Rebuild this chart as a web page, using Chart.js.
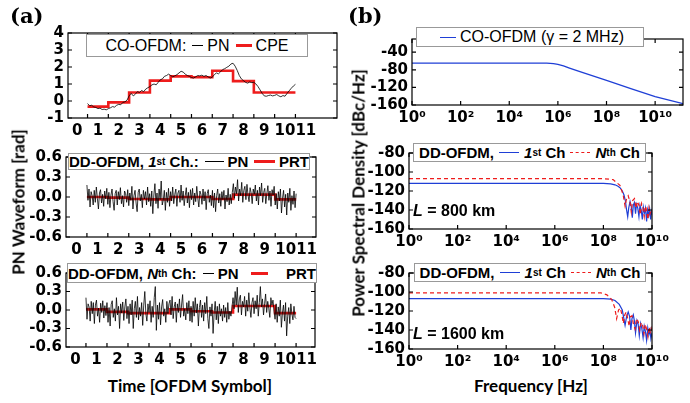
<!DOCTYPE html>
<html>
<head>
<meta charset="utf-8">
<script src="https://cdn.jsdelivr.net/npm/chart.js@4.4.1/dist/chart.umd.min.js"></script>
<style>
body { margin: 0; background: #fff; }
#wrap { position: relative; width: 690px; height: 403px; overflow: hidden; }
canvas { position: absolute; }
.lg { position: absolute; background: #fff; border: 1px solid #999; display: flex; align-items: center;
      justify-content: center; font-family: "Liberation Sans", Arial, sans-serif; color: #000;
      white-space: nowrap; box-sizing: border-box; }
.lg.b { font-weight: bold; font-size: 15px; }
.lg.r { font-size: 16px; }
.ln { display: inline-block; border-top: 1px solid #000; margin: 0 4px; vertical-align: middle; }
.sm { font-size: 10px; }
.txt { position: absolute; color: #000; white-space: nowrap; }
.ttl { font-family: Lato, "Open Sans", sans-serif; font-weight: bold; font-size: 17px; }
.rot { transform: translate(-50%, -50%) rotate(-90deg); }
.pan { font-family: "DejaVu Serif", serif; font-weight: bold; font-size: 21px; }
.lbl { font-family: "Liberation Sans", Arial, sans-serif; font-weight: bold; font-size: 16px; }
</style>
</head>
<body>
<div id="wrap">
  <canvas id="aTop" width="345" height="140" style="left:0;top:0"></canvas>
  <canvas id="aMid" width="345" height="120" style="left:0;top:140px"></canvas>
  <canvas id="aBot" width="345" height="110" style="left:0;top:260px"></canvas>
  <canvas id="bTop" width="345" height="140" style="left:345px;top:0"></canvas>
  <canvas id="bMid" width="345" height="120" style="left:345px;top:140px"></canvas>
  <canvas id="bBot" width="345" height="110" style="left:345px;top:260px"></canvas>

  <div class="lg r" style="left:86px;top:34px;width:222px;height:23px">
    CO-OFDM:<span class="ln" style="width:11px;margin-left:6px"></span>PN<span class="ln" style="width:16px;border-top:3px solid #ee1c1c;margin-left:6px"></span>CPE
  </div>
  <div class="lg b" style="left:68px;top:153px;width:242px;height:17px">
    DD-OFDM,&nbsp;<i>1</i><span class="sm">st</span>&nbsp;Ch.:<span class="ln" style="width:22px;margin-left:6px"></span>PN<span class="ln" style="width:24px;border-top:3px solid #ee1c1c;margin-left:6px"></span>PRT
  </div>
  <div class="lg b" style="left:67px;top:263px;width:250px;height:20px">
    DD-OFDM,&nbsp;<i>N</i><span class="sm">th</span>&nbsp;Ch:<span class="ln" style="width:14px;margin-left:6px"></span>PN<span class="ln" style="width:22px;border-top:3px solid #ee1c1c;margin:0 18px 0 12px"></span>PRT
  </div>
  <div class="lg r" style="left:416px;top:27px;width:228px;height:20px">
    <span class="ln" style="width:16px;border-top-color:#1f3fd6"></span>CO-OFDM (γ = 2 MHz)
  </div>
  <div class="lg b" style="left:413px;top:143px;width:233px;height:19px">
    DD-OFDM,<span class="ln" style="width:20px;border-top:1.5px solid #1f3fd6;margin:0 5px"></span><i>1</i><span class="sm">st</span>&nbsp;Ch<span class="ln" style="width:20px;border-top:1.5px dashed #ee1c1c;margin:0 5px"></span><i>N</i><span class="sm">th</span>&nbsp;Ch
  </div>
  <div class="lg b" style="left:414px;top:263px;width:232px;height:19px">
    DD-OFDM,<span class="ln" style="width:20px;border-top:1.5px solid #1f3fd6;margin:0 5px"></span><i>1</i><span class="sm">st</span>&nbsp;Ch<span class="ln" style="width:20px;border-top:1.5px dashed #ee1c1c;margin:0 5px"></span><i>N</i><span class="sm">th</span>&nbsp;Ch
  </div>

  <div class="txt lbl" style="left:413px;top:202px"><i>L</i> = 800 km</div>
  <div class="txt lbl" style="left:413px;top:325px"><i>L</i> = 1600 km</div>

  <div class="txt pan" style="left:10px;top:3px">(a)</div>
  <div class="txt pan" style="left:348px;top:3px">(b)</div>
  <div class="txt ttl rot" style="left:18px;top:202px">PN Waveform [rad]</div>
  <div class="txt ttl rot" style="left:358px;top:193px">Power Spectral Density [dBc/Hz]</div>
  <div class="txt ttl" style="left:190px;top:385px;transform:translate(-50%,-50%)">Time [OFDM Symbol]</div>
  <div class="txt ttl" style="left:531px;top:385px;transform:translate(-50%,-50%)">Frequency [Hz]</div>
</div>

<script>
// ---- panel (a): phase noise waveforms ----
const symbolTicks = [0, 1, 2, 3, 4, 5, 6, 7, 8, 9, 10, 11];
const symbolEdges = [0.5, 1.5, 2.5, 3.5, 4.5, 5.5, 6.5, 7.5, 8.5, 9.5, 10.5];
const coTicks = [-1, 0, 1, 2, 3, 4];
const ddTicks = [-0.6, -0.3, 0, 0.3, 0.6];

const cpeLevels = [-0.33, -0.08, 0.5, 1.2, 1.45, 1.4, 1.78, 1.17, 0.5, 0.5];
const prt1Levels = [0.0, -0.01, -0.03, -0.035, 0.0, 0.0, -0.03, 0.035, 0.035, -0.035];
const prtNLevels = [0.01, -0.03, -0.05, -0.05, 0.01, -0.02, -0.04, 0.065, 0.065, -0.05];

// CO-OFDM PN, sampled every 0.1 symbol from 0.5
const pnCo = [
  -0.15, -0.28, -0.25, -0.35, -0.38, -0.45, -0.42, -0.5, -0.48, -0.52,
  -0.45, -0.4, -0.33, -0.36, -0.25, -0.2, -0.22, -0.08, -0.05, 0.05,
  0.3, 0.45, 0.3, 0.4, 0.55, 0.5, 0.62, 0.55, 0.7, 0.78,
  0.85, 0.95, 1.0, 0.95, 1.1, 1.25, 1.3, 1.45, 1.5, 1.58,
  1.5, 1.42, 1.48, 1.55, 1.65, 1.75, 1.7, 1.58, 1.5, 1.45,
  1.38, 1.35, 1.42, 1.5, 1.48, 1.52, 1.45, 1.5, 1.42, 1.35,
  1.4, 1.55, 1.65, 1.6, 1.72, 1.85, 1.9, 1.98, 2.05, 2.18,
  2.22, 2.05, 1.8, 1.5, 1.3, 1.2, 1.1, 1.05, 1.12, 1.08,
  1.1, 1.0, 0.85, 0.65, 0.45, 0.3, 0.28, 0.32, 0.35, 0.3,
  0.33, 0.38, 0.3, 0.25, 0.32, 0.28, 0.45, 0.6, 0.75, 0.88,
  0.98
];

// DD-OFDM PN, sampled every 0.05 symbol from 0.5
const pn1st = [
  0.18, -0.05, 0.12, -0.15, 0.08, 0.02, -0.12, 0.1, -0.08, 0.15, -0.02, -0.18, 0.06, 0.11, -0.09, 0.04, -0.14, 0.09, -0.03, 0.13,
  -0.11, 0.07, -0.16, 0.03, 0.12, -0.07, -0.2, 0.05, 0.1, -0.12, 0.08, -0.04, 0.14, -0.1, 0.02, -0.15, 0.09, 0.05, -0.08, 0.11,
  -0.13, 0.06, -0.05, 0.16, -0.18, 0.02, 0.1, -0.09, -0.22, 0.07, 0.12, -0.06, 0.04, -0.16, 0.1, -0.03, 0.08, -0.12, 0.15, -0.07,
  0.05, -0.14, 0.09, -0.25, 0.03, 0.2, -0.1, 0.06, -0.17, 0.12, -0.04, 0.24, -0.12, -0.05, 0.1, -0.2, 0.07, -0.08, 0.13, -0.14,
  0.08, -0.06, 0.15, -0.1, 0.04, 0.12, -0.14, 0.06, 0.1, -0.08, 0.18, -0.05, 0.09, -0.13, 0.02, 0.14, -0.09, 0.07, -0.16, 0.11,
  -0.04, 0.13, -0.12, 0.06, -0.07, 0.16, -0.02, -0.15, 0.09, 0.04, -0.11, 0.12, -0.06, 0.08, -0.19, 0.05, 0.11, -0.08, 0.03, -0.13,
  0.1, -0.16, 0.06, -0.22, 0.02, 0.12, -0.09, 0.05, -0.14, 0.08, -0.04, 0.1, -0.18, 0.03, -0.07, 0.13, -0.12, 0.04, -0.1, 0.07,
  0.2, -0.02, 0.15, 0.05, 0.26, -0.06, 0.12, 0.02, 0.22, -0.08, 0.1, 0.16, -0.04, 0.19, 0.03, -0.07, 0.14, 0.06, -0.1, 0.12,
  0.04, 0.18, -0.06, 0.1, -0.12, 0.15, 0.02, 0.21, -0.08, 0.07, 0.13, -0.1, 0.05, 0.17, -0.05, 0.09, -0.14, 0.11, 0.03, 0.16,
  -0.12, 0.05, -0.18, 0.08, -0.06, 0.12, -0.24, -0.02, 0.1, -0.15, 0.04, -0.27, 0.06, -0.08, 0.13, -0.2, 0.02, -0.11, 0.09, -0.16,
  0.05
];
const pnNth = [
  0.2, -0.15, 0.1, 0.05, -0.18, 0.14, -0.06, 0.12, -0.22, 0.08, 0.16, -0.1, 0.03, -0.2, 0.11, -0.04, 0.15, -0.13, 0.07, -0.09,
  0.12, -0.2, 0.04, -0.26, 0.09, 0.15, -0.12, 0.02, -0.18, 0.2, -0.08, 0.06, -0.3, 0.1, -0.05, 0.13, -0.17, 0.05, 0.18, -0.14,
  0.06, -0.22, 0.1, -0.08, 0.16, -0.3, 0.02, 0.14, -0.12, 0.22, -0.16, 0.04, -0.1, 0.12, -0.25, 0.08, 0.3, -0.06, -0.18, 0.1,
  -0.04, 0.15, -0.2, 0.06, -0.12, 0.2, 0.38, -0.33, 0.08, -0.15, 0.12, -0.24, 0.05, 0.17, -0.1, 0.02, -0.2, 0.14, -0.06, 0.1,
  0.16, -0.08, 0.22, -0.14, 0.05, 0.13, -0.2, 0.1, -0.04, 0.18, -0.12, 0.08, 0.25, -0.1, 0.02, -0.16, 0.12, -0.06, 0.15, -0.18,
  0.06, -0.2, 0.14, -0.1, 0.2, -0.05, 0.1, -0.26, 0.04, 0.16, -0.12, 0.08, -0.18, 0.12, -0.06, 0.22, -0.14, -0.3, 0.05, -0.1,
  0.1, -0.38, -0.05, 0.14, -0.16, 0.06, -0.22, 0.1, -0.1, 0.02, -0.18, 0.08, -0.12, 0.04, -0.2, 0.12, -0.15, -0.02, -0.1, 0.05,
  0.2, 0.02, 0.3, 0.08, 0.37, -0.04, 0.18, 0.24, -0.08, 0.14, 0.05, 0.22, -0.1, 0.16, -0.02, 0.28, 0.04, -0.12, 0.12, 0.2,
  -0.06, 0.15, 0.02, 0.24, -0.1, 0.12, 0.38, 0.05, 0.18, -0.08, 0.1, 0.26, -0.04, 0.14, 0.03, -0.12, 0.2, 0.08, 0.16, -0.02,
  -0.15, 0.1, -0.2, 0.05, -0.1, 0.16, -0.28, -0.05, 0.08, -0.18, 0.12, -0.42, -0.1, 0.04, -0.22, 0.1, -0.06, -0.16, 0.06, -0.12,
  -0.14
];

// ---- panel (b): power spectral densities ----
const freqTicks = [1, 1e2, 1e4, 1e6, 1e8, 1e10];
const coPsdTicks = [-160, -120, -80, -40];
const ddPsdTicks = [-160, -140, -120, -100, -80];

const coFreq = [1, 1e2, 1e4, 1e5, 3.5e5, 6.6e5, 1e6, 1.7e6, 3e6, 1e7, 1e8, 1e9, 1e10, 1.4e11];
const coPsd = [-65, -65, -65, -65, -65, -66, -67.5, -71, -76, -86, -104, -123, -141, -157];

const f800first = [1, 1e6, 1e8, 2e8, 3e8, 4e8, 5e8, 6e8, 7e8, 8e8, 9e8, 1e9, 1.1e9, 1.25e9, 1.4e9, 1.55e9, 1.7e9, 1.9e9,
  2.1e9, 2.3e9, 2.6e9, 2.9e9, 3.2e9, 3.6e9, 4e9, 4.4e9, 4.9e9, 5.4e9, 6e9, 6.6e9, 7.3e9, 8e9, 8.8e9, 9.4e9, 1e10];
const p800first = [-112, -112, -112, -112.5, -113.5, -115, -117, -120, -124, -130, -140, -147, -138, -131, -136, -148, -135, -132,
  -144, -134, -138, -147, -135, -140, -150, -137, -143, -138, -152, -140, -146, -139, -150, -142, -145];
const f800nth = [1, 1e6, 1e8, 2.5e8, 4.8e8, 6.5e8, 7.8e8, 9e8, 1.05e9, 1.25e9, 1.4e9, 1.6e9, 1.9e9, 2.2e9, 2.5e9, 2.9e9, 3.3e9,
  3.7e9, 4.2e9, 4.8e9, 5.4e9, 6e9, 6.8e9, 7.5e9, 8.3e9, 9.2e9, 1e10];
const p800nth = [-107, -107, -107, -108, -114, -124, -136, -128, -125, -132, -142, -130, -128, -138, -131, -135, -145,
  -133, -137, -147, -136, -141, -150, -138, -144, -140, -142];

const f1600first = [1, 1e6, 1e8, 2e8, 3e8, 4.5e8, 6e8, 7.8e8, 9e8, 1.05e9, 1.2e9, 1.35e9, 1.5e9, 1.7e9, 1.9e9, 2.1e9, 2.4e9,
  2.7e9, 3e9, 3.4e9, 3.8e9, 4.3e9, 4.8e9, 5.4e9, 6e9, 6.7e9, 7.4e9, 8.2e9, 9e9, 1e10];
const p1600first = [-107, -107, -107, -107.5, -109, -113, -119, -135, -126, -121, -126, -140, -128, -124, -131, -143, -130,
  -134, -146, -133, -138, -148, -136, -142, -151, -138, -145, -140, -149, -143];
const f1600nth = [1, 1e6, 8e7, 1.4e8, 2.2e8, 2.9e8, 3.5e8, 4.2e8, 5e8, 5.8e8, 6.6e8, 7.6e8, 8.8e8, 1e9, 1.15e9, 1.3e9, 1.5e9,
  1.7e9, 2e9, 2.3e9, 2.7e9, 3.1e9, 3.6e9, 4.1e9, 4.7e9, 5.3e9, 6e9, 6.8e9, 7.6e9, 8.5e9, 9.3e9, 1e10];
const p1600nth = [-101, -101, -101, -103, -108, -116, -128, -119, -117, -124, -133, -124, -121, -128, -136, -126, -125,
  -133, -139, -128, -131, -140, -132, -135, -144, -134, -139, -147, -137, -142, -138, -141];

const RED = '#ee1c1c', BLUE = '#1f3fd6';

Chart.defaults.font.family = '"DejaVu Sans", sans-serif';
Chart.defaults.font.weight = 'bold';
Chart.defaults.font.size = 15;
Chart.defaults.color = '#000';

// box around the plot area plus small inward tick marks
const framePlugin = {
  id: 'frame',
  afterDatasetsDraw(chart, args, opts) {
    const { ctx, chartArea: a, scales } = chart;
    const len = 4;
    ctx.save();
    ctx.strokeStyle = '#000';
    ctx.lineWidth = 1.2;
    ctx.strokeRect(a.left, a.top, a.right - a.left, a.bottom - a.top);
    ctx.beginPath();
    opts.xMarks.forEach(v => {
      const px = scales.x.getPixelForValue(v);
      ctx.moveTo(px, a.bottom); ctx.lineTo(px, a.bottom - len);
      ctx.moveTo(px, a.top); ctx.lineTo(px, a.top + len);
    });
    opts.yMarks.forEach(v => {
      const py = scales.y.getPixelForValue(v);
      ctx.moveTo(a.left, py); ctx.lineTo(a.left + len, py);
      ctx.moveTo(a.right, py); ctx.lineTo(a.right - len, py);
    });
    ctx.stroke();
    ctx.restore();
  }
};

const sup = { 0: '⁰', 2: '²', 4: '⁴', 6: '⁶', 8: '⁸', 10: '¹⁰' };

function pts(xs, ys) {
  return xs.map((x, i) => ({ x: x, y: ys[i] }));
}
function evenPts(start, step, ys) {
  return ys.map((y, i) => ({ x: start + i * step, y: y }));
}
function steps(levels) {
  return symbolEdges.map((x, i) => ({ x: x, y: levels[Math.min(i, levels.length - 1)] }));
}

function makeChart(id, datasets, o) {
  const canvas = document.getElementById(id);
  const isLog = o.xType === 'logarithmic';
  return new Chart(canvas, {
    type: 'line',
    data: { datasets: datasets },
    options: {
      responsive: false,
      animation: false,
      layout: { padding: { top: o.top, right: o.right, left: 0, bottom: 0 } },
      plugins: { legend: { display: false }, tooltip: { enabled: false },
                 frame: { xMarks: o.xMarks, yMarks: o.yTicks } },
      elements: { point: { radius: 0 } },
      scales: {
        x: {
          type: o.xType, min: o.xMin, max: o.xMax,
          grid: { display: false, drawTicks: false },
          border: { display: false },
          afterBuildTicks: s => { s.ticks = o.xTicks.map(v => ({ value: v })); },
          afterFit: s => { s.height = o.xH; },
          ticks: {
            autoSkip: false, maxRotation: 0, padding: o.xPad || 4,
            callback: v => isLog ? '10' + sup[Math.round(Math.log10(v))] : String(v)
          }
        },
        y: {
          min: o.yMin, max: o.yMax,
          grid: { display: false, drawTicks: false },
          border: { display: false },
          afterBuildTicks: s => { s.ticks = o.yTicks.map(v => ({ value: v })); },
          afterFit: s => { s.width = o.yW; },
          ticks: { autoSkip: false, padding: 4, callback: v => o.yDec ? v.toFixed(o.yDec) : String(v) }
        }
      }
    },
    plugins: [framePlugin]
  });
}

const pnLine = { borderColor: '#000', borderWidth: 0.8, tension: 0 };
const stepLine = { borderColor: RED, borderWidth: 2.6, stepped: true };

makeChart('aTop', [
  Object.assign({ data: evenPts(0.5, 0.1, pnCo) }, pnLine),
  Object.assign({ data: steps(cpeLevels.concat([cpeLevels[9]])) }, stepLine)
], { xType: 'linear', xMin: -0.44, xMax: 12.5, xTicks: symbolTicks, xMarks: symbolEdges, xH: 22,
     yMin: -1, yMax: 4, yTicks: coTicks, yW: 68, top: 33, right: 8 });

makeChart('aMid', [
  Object.assign({ data: evenPts(0.5, 0.05, pn1st) }, pnLine),
  Object.assign({ data: steps(prt1Levels.concat([prt1Levels[9]])) }, stepLine)
], { xType: 'linear', xMin: -0.5, xMax: 11.45, xTicks: symbolTicks, xMarks: symbolEdges, xH: 23,
     yMin: -0.6, yMax: 0.6, yTicks: ddTicks, yDec: 1, yW: 66, top: 17, right: 29 });

makeChart('aBot', [
  Object.assign({ data: evenPts(0.5, 0.05, pnNth) }, pnLine),
  Object.assign({ data: steps(prtNLevels.concat([prtNLevels[9]])) }, stepLine)
], { xType: 'linear', xMin: -0.45, xMax: 11.4, xTicks: symbolTicks, xMarks: symbolEdges, xH: 23,
     yMin: -0.6, yMax: 0.6, yTicks: ddTicks, yDec: 1, yW: 66, top: 5.5, right: 30 });

makeChart('bTop', [
  { data: pts(coFreq, coPsd), borderColor: BLUE, borderWidth: 1.3 }
], { xType: 'logarithmic', xMin: 1, xMax: 1.4e11, xTicks: freqTicks, xMarks: freqTicks, xH: 35,
     yMin: -160, yMax: -10, yTicks: coPsdTicks, yW: 67, top: 39, right: 7 });

makeChart('bMid', [
  { data: pts(f800nth, p800nth), borderColor: RED, borderWidth: 1.2, borderDash: [4, 3] },
  { data: pts(f800first, p800first), borderColor: BLUE, borderWidth: 1.2 }
], { xType: 'logarithmic', xMin: 1, xMax: 1e10, xTicks: freqTicks, xMarks: freqTicks, xH: 31,
     yMin: -160, yMax: -80, yTicks: ddPsdTicks, yW: 64, top: 13, right: 38 });

makeChart('bBot', [
  { data: pts(f1600nth, p1600nth), borderColor: RED, borderWidth: 1.2, borderDash: [4, 3] },
  { data: pts(f1600first, p1600first), borderColor: BLUE, borderWidth: 1.2 }
], { xType: 'logarithmic', xMin: 1, xMax: 1e10, xTicks: freqTicks, xMarks: freqTicks, xH: 21,
     yMin: -160, yMax: -80, yTicks: ddPsdTicks, yW: 64, top: 13, right: 38 });
</script>
</body>
</html>
